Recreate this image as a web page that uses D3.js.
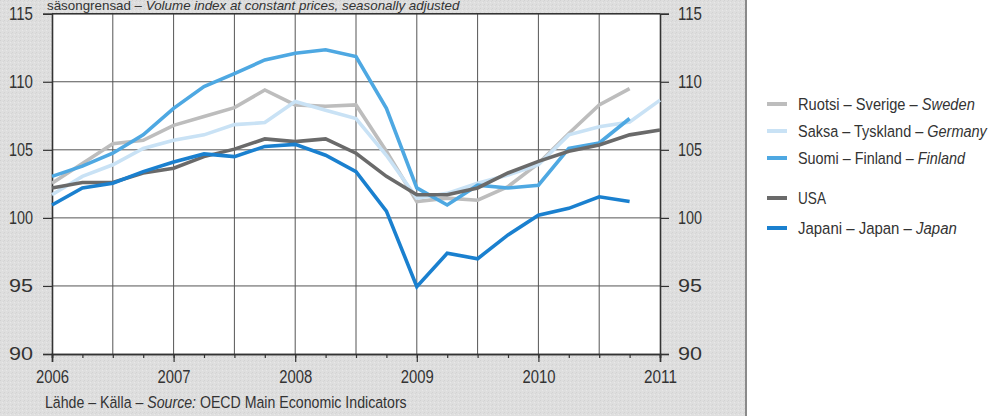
<!DOCTYPE html>
<html>
<head>
<meta charset="utf-8">
<script src="https://cdn.jsdelivr.net/npm/d3@7"></script>
<style>
  html, body { margin: 0; padding: 0; background: #ffffff; }
  svg { display: block; }
  text { font-family: "Liberation Sans", Arial, sans-serif; fill: #333; }
</style>
</head>
<body>
<svg id="chart" width="993" height="416"></svg>
<script>
// Quarterly observations, 2006 Q1 .. 2011 Q1 (index, volume at constant prices)
const quarters = d3.range(0, 21).map(i => 2006 + i * 0.25);

const sweden  = [102.55, 104.0, 105.45, 105.7, 106.8, 107.45, 108.1, 109.4, 108.3, 108.2, 108.3, 104.9, 101.2, 101.45, 101.3, 102.3, 104.0, 106.2, 108.3, 109.5];
const germany = [101.7, 103.05, 103.9, 105.1, 105.7, 106.1, 106.85, 107.0, 108.55, 107.9, 107.3, 104.6, 101.45, 101.8, 102.55, 103.15, 103.9, 106.1, 106.7, 107.05, 108.65];
const finland = [103.05, 103.8, 104.75, 106.1, 108.05, 109.65, 110.6, 111.6, 112.1, 112.35, 111.85, 108.05, 102.2, 100.95, 102.4, 102.2, 102.4, 105.1, 105.5, 107.3];
const usa     = [102.2, 102.6, 102.6, 103.3, 103.65, 104.5, 105.05, 105.8, 105.6, 105.8, 104.75, 103.05, 101.7, 101.7, 102.2, 103.3, 104.15, 104.9, 105.35, 106.1, 106.45];
const japan   = [100.95, 102.2, 102.55, 103.4, 104.1, 104.7, 104.5, 105.25, 105.4, 104.6, 103.4, 100.5, 94.95, 97.4, 97.0, 98.75, 100.2, 100.7, 101.55, 101.2];

const yearTicks = [2006, 2007, 2008, 2009, 2010, 2011];
const valueTicks = [90, 95, 100, 105, 110, 115];

const seriesNames = [
  { fi: "Ruotsi – Sverige – ", en: "Sweden" },
  { fi: "Saksa – Tyskland – ", en: "Germany" },
  { fi: "Suomi – Finland – ", en: "Finland" },
  { fi: "USA", en: "" },
  { fi: "Japani – Japan – ", en: "Japan" }
];
const seriesData = [sweden, germany, finland, usa, japan];
const seriesColors = ["#bdbdbd", "#c9e2f5", "#4ea8e2", "#6a6a6a", "#1a80cf"];
const headerText = ["säsongrensad – ", "Volume index at constant prices, seasonally adjusted"];
const sourceText = ["Lähde – Källa – ", "Source:", " OECD Main Economic Indicators"];

const svg = d3.select("#chart");

// squeeze a text horizontally to a target width (condensed look)
function condensed(parent, x0, y0, size, width, parts) {
  const grp = parent.append("g");
  const t = grp.append("text").attr("x", 0).attr("y", 0).attr("font-size", size);
  parts.forEach(p => {
    const ts = t.append("tspan").text(p.text);
    if (p.italic) ts.attr("font-style", "italic");
  });
  const w = t.node().getComputedTextLength();
  const sx = w > 0 ? width / w : 1;
  grp.attr("transform", `translate(${x0},${y0}) scale(${sx},1)`);
  return t;
}

// textured grey panel
const defs = svg.append("defs");
const pat = defs.append("pattern").attr("id", "tex").attr("width", 4).attr("height", 4).attr("patternUnits", "userSpaceOnUse");
pat.append("rect").attr("width", 4).attr("height", 4).attr("fill", "#dedede");
pat.append("rect").attr("x", 0).attr("y", 0).attr("width", 1).attr("height", 1).attr("fill", "#d2d2d2");
pat.append("rect").attr("x", 2).attr("y", 2).attr("width", 1).attr("height", 1).attr("fill", "#e8e8e8");
pat.append("rect").attr("x", 3).attr("y", 1).attr("width", 1).attr("height", 1).attr("fill", "#d6d6d6");
svg.append("rect").attr("x", 0).attr("y", 0).attr("width", 746).attr("height", 416).attr("fill", "url(#tex)");
svg.append("line").attr("x1", 746).attr("x2", 746).attr("y1", 0).attr("y2", 416).attr("stroke", "#8a8a8a").attr("stroke-width", 2);

const x = d3.scaleLinear().domain([2006, 2011]).range([52, 660]);
const y = d3.scaleLinear().domain([90, 115]).range([354, 13.7]);

// plot background
svg.append("rect").attr("x", x(2006)).attr("y", y(115)).attr("width", x(2011) - x(2006)).attr("height", y(90) - y(115)).attr("fill", "#ffffff");

// grid
const g = svg.append("g");
g.selectAll("line.vg").data(d3.range(2006.5, 2011, 0.5)).join("line")
  .attr("x1", d => x(d)).attr("x2", d => x(d)).attr("y1", y(115)).attr("y2", y(90))
  .attr("stroke", "#555").attr("stroke-width", 1);
g.selectAll("line.hg").data(valueTicks.slice(1)).join("line")
  .attr("x1", x(2006)).attr("x2", x(2011)).attr("y1", d => y(d)).attr("y2", d => y(d))
  .attr("stroke", "#555").attr("stroke-width", 1);

// axes
const leftAxis = d3.axisLeft(y).tickValues(valueTicks).tickSize(9).tickPadding(10);
const la = svg.append("g").attr("transform", `translate(${x(2006)},0)`).call(leftAxis);
const rightAxis = d3.axisRight(y).tickValues(valueTicks).tickSize(9).tickPadding(9);
const ra = svg.append("g").attr("transform", `translate(${x(2011)},0)`).call(rightAxis);
const bottomMinor = d3.axisBottom(x).tickValues(d3.range(2006, 2011.01, 0.25)).tickSize(4).tickFormat("");
const bm = svg.append("g").attr("transform", `translate(0,${y(90)})`).call(bottomMinor);
const bottomAxis = d3.axisBottom(x).tickValues(yearTicks).tickSize(8).tickPadding(9).tickFormat(d3.format("d"));
const ba = svg.append("g").attr("transform", `translate(0,${y(90)})`).call(bottomAxis);
[la, ra, bm, ba].forEach(a => {
  a.select(".domain").attr("stroke", "#333").attr("stroke-width", 1.6);
  a.selectAll(".tick line").attr("stroke", "#333").attr("stroke-width", 1.2);
  a.selectAll(".tick text").attr("font-size", 17.5).attr("fill", "#333")
    .attr("font-family", "Liberation Sans, Arial, sans-serif")
    .attr("lengthAdjust", "spacingAndGlyphs")
    .attr("textLength", function() { return this.textContent.length === 4 ? 33 : 24; });
});
// top border
svg.append("line").attr("x1", x(2006)).attr("x2", x(2011)).attr("y1", y(115)).attr("y2", y(115)).attr("stroke", "#333").attr("stroke-width", 1.6);

// lines
const line = d3.line().x((d, i) => x(quarters[i])).y(d => y(d));
seriesData.forEach((s, i) => {
  svg.append("path").datum(s).attr("d", line).attr("fill", "none")
    .attr("stroke", seriesColors[i]).attr("stroke-width", 3.6).attr("stroke-linejoin", "miter");
});

// header line at the very top
condensed(svg, 47, 10, 12, 413, [{ text: headerText[0] }, { text: headerText[1], italic: true }]);

// source
condensed(svg, 45, 408, 16.5, 362, [{ text: sourceText[0] }, { text: sourceText[1], italic: true }, { text: sourceText[2] }]);

// legend
const legendY = [104, 131, 158, 198, 228];
const legendW = [177, 189, 167, 28, 159];
seriesNames.forEach((n, i) => {
  svg.append("line").attr("x1", 767).attr("x2", 787).attr("y1", legendY[i]).attr("y2", legendY[i])
    .attr("stroke", seriesColors[i]).attr("stroke-width", 4);
  const parts = [{ text: n.fi }];
  if (n.en) parts.push({ text: n.en, italic: true });
  condensed(svg, 798, legendY[i] + 6, 17, legendW[i], parts);
});
</script>
</body>
</html>
